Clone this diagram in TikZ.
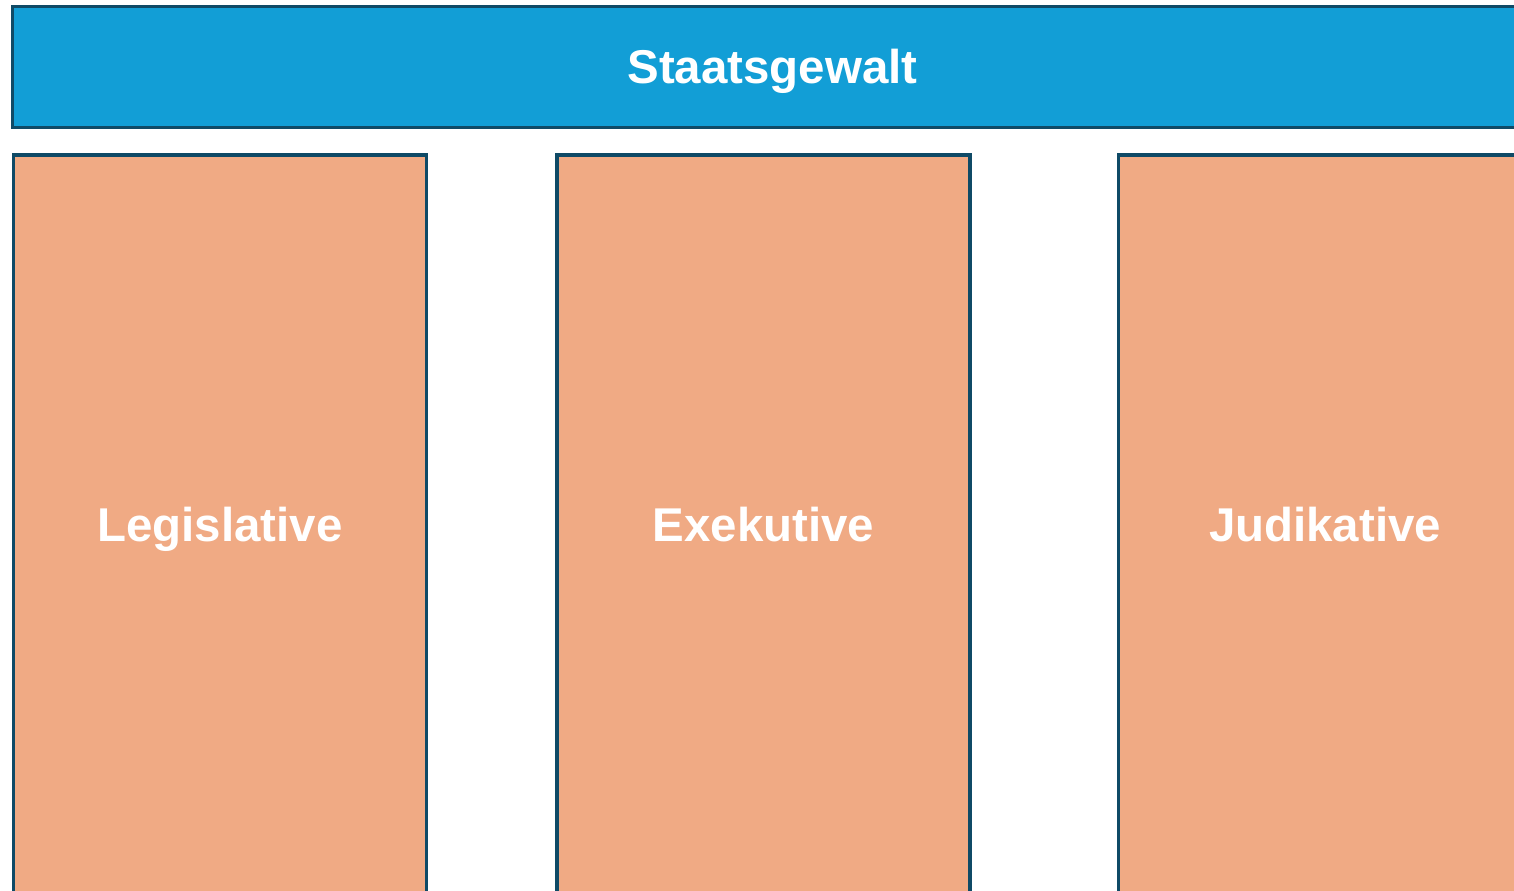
\documentclass[tikz,border=0pt]{standalone}
\usepackage{fontspec}
\setmainfont{Liberation Sans}
\definecolor{rahmen}{HTML}{0F4A66}
\definecolor{staat}{HTML}{129ED6}
\definecolor{gewalt}{HTML}{F0AA84}
\begin{document}
\begin{tikzpicture}[x=0.02cm,y=-0.02cm,
  balken/.style={draw=rahmen,fill=staat,line width=0.07cm,minimum width=30.4cm,minimum height=2.43cm,inner sep=0pt,text height=19.3pt,text depth=0pt,text=white,font=\fontsize{27pt}{32pt}\selectfont\bfseries},
  saeule/.style={draw=rahmen,fill=gewalt,line width=0.07cm,minimum width=8.27cm,minimum height=14.8cm,inner sep=0pt,text height=19.3pt,text depth=0pt,text=white,font=\fontsize{27pt}{32pt}\selectfont\bfseries}]
\useasboundingbox (0,0) rectangle (1514,891);
\clip (0,0) rectangle (1514,891);
\node[balken] (staat) at (772.5,67) {Staatsgewalt};
\node[saeule] (leg) at (220,525) {Legislative};
\node[saeule] (exe) at (763.5,525) {Exekutive};
\node[saeule] (jud) at (1325,525) {Judikative};
\end{tikzpicture}
\end{document}
